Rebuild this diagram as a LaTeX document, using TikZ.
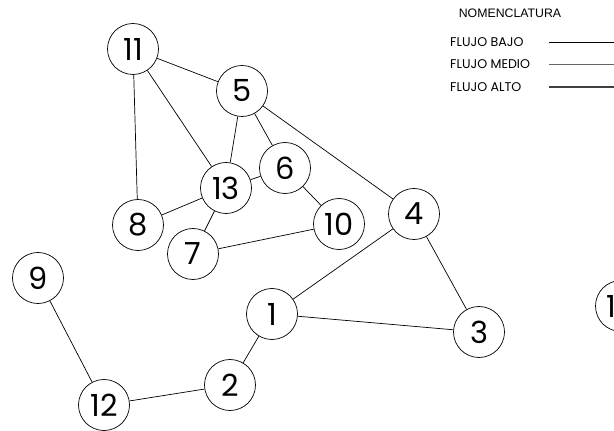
\documentclass[tikz,border=0pt]{standalone}
\usepackage{fontspec}
\setmainfont{Poppins}
\newfontfamily\arialfont{Liberation Sans}

\begin{document}
\begin{tikzpicture}[x=0.03cm,y=-0.03cm,
    station/.style={draw,circle,line width=0.6pt,minimum size=1.53cm,inner sep=0pt,
      font=\fontsize{26}{26}\selectfont},
    tramo/.style={line width=0.6pt},
    leyenda/.style={anchor=west,inner sep=0pt,font=\fontsize{10.8}{12}\selectfont}]
  \clip (0,0) rectangle (614,431);
  % estaciones
  \node[station] (n11) at (133,49)  {11};
  \node[station] (n5)  at (242,91)  {5};
  \node[station] (n6)  at (285,168) {6};
  \node[station] (n13) at (226,188) {13};
  \node[station] (n8)  at (138,225) {8};
  \node[station] (n7)  at (193,254) {7};
  \node[station] (n10) at (339,224) {10};
  \node[station] (n4)  at (414,214) {4};
  \node[station] (n9)  at (38,278)  {9};
  \node[station] (n1)  at (272,314) {1};
  \node[station] (n3)  at (479,332) {3};
  \node[station] (n2)  at (230,385) {2};
  \node[station] (n12) at (104,405) {12};
  \node[station] (n14) at (621,306) {14};
  % tramos
  \draw[tramo] (n11) -- (n5);
  \draw[tramo] (n11) -- (n8);
  \draw[tramo] (n11) -- (n13);
  \draw[tramo] (n5) -- (n13);
  \draw[tramo] (n5) -- (n6);
  \draw[tramo] (n5) -- (n4);
  \draw[tramo] (n6) -- (n13);
  \draw[tramo] (n6) -- (n10);
  \draw[tramo] (n13) -- (n8);
  \draw[tramo] (n13) -- (n7);
  \draw[tramo] (n7) -- (n10);
  \draw[tramo] (n4) -- (n1);
  \draw[tramo] (n4) -- (n3);
  \draw[tramo] (n1) -- (n3);
  \draw[tramo] (n1) -- (n2);
  \draw[tramo] (n2) -- (n12);
  \draw[tramo] (n9) -- (n12);
  % nomenclatura
  \node[font=\arialfont\fontsize{10.5}{12}\selectfont] (nom) at (510,13) {NOMENCLATURA};
  \node[leyenda] (bajo)  at (450,42.5) {FLUJO BAJO};
  \node[leyenda] (medio) at (450,64.5) {FLUJO MEDIO};
  \node[leyenda] (alto)  at (450,87)   {FLUJO ALTO};
  \coordinate (fin) at (620,0);
  \draw[line width=0.7pt] (549,42.5) -- (bajo -| fin);
  \draw[line width=1pt,black!60] (549,64.5) -- (medio -| fin);
  \draw[line width=1pt,black!75] (549,87) -- (alto -| fin);
\end{tikzpicture}
\end{document}
